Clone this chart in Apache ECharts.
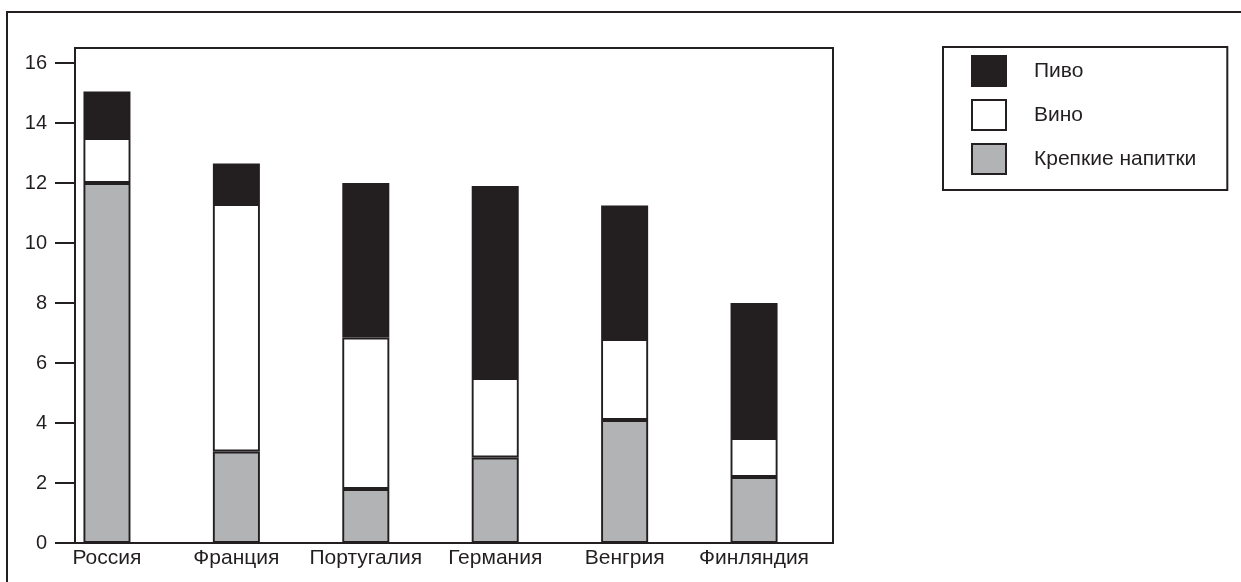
<!DOCTYPE html>
<html>
<head>
<meta charset="utf-8">
<script src="https://cdn.jsdelivr.net/npm/echarts@6/dist/echarts.min.js"></script>
<style>
html,body{margin:0;padding:0;background:#fff;}
#chart{width:1241px;height:582px;}
</style>
</head>
<body>
<div id="chart"></div>
<script>
var categories = ['Россия', 'Франция', 'Португалия', 'Германия', 'Венгрия', 'Финляндия'];
var seriesNames = ['Пиво', 'Вино', 'Крепкие напитки'];
var spirits = [12.0, 3.05, 1.8, 2.85, 4.1, 2.2];
var wine = [1.5, 8.25, 5.05, 2.65, 2.7, 1.3];
var beer = [1.55, 1.35, 5.15, 6.4, 4.45, 4.5];
var yTicks = [0, 2, 4, 6, 8, 10, 12, 14, 16];
var catIndex = categories.map(function (c, i) { return i; });

var ink = '#231f20';
var font = "'Liberation Sans', Arial, sans-serif";

// value first, category index second (so the value dimension is the stacked one)
function pairs(arr) { return arr.map(function (v, i) { return [v, i]; }); }

var chart = echarts.init(document.getElementById('chart'), null, {renderer: 'canvas'});
chart.setOption({
  animation: false,
  backgroundColor: '#fff',
  textStyle: {fontFamily: font, color: ink},
  graphic: [{
    type: 'rect', shape: {x: 7, y: 12, width: 1400, height: 800},
    style: {fill: 'none', stroke: ink, lineWidth: 2}, silent: true
  }],
  grid: {left: 75, top: 48, right: 408, bottom: 39, show: true, borderColor: ink, borderWidth: 2, backgroundColor: 'transparent'},
  legend: {
    orient: 'vertical', left: 943, top: 47,
    data: seriesNames,
    icon: 'rect', itemWidth: 34, itemHeight: 30, itemGap: 12,
    padding: [8, 31, 15, 28],
    borderColor: ink, borderWidth: 2,
    textStyle: {fontFamily: font, fontSize: 21, lineHeight: 24, color: ink, padding: [0, 0, 0, 23]},
    selectedMode: false
  },
  xAxis: {
    type: 'value', min: -0.247, max: 5.61,
    splitLine: {show: false},
    axisTick: {show: false},
    axisLine: {show: true, onZero: false, lineStyle: {color: ink, width: 2}},
    axisLabel: {
      customValues: catIndex,
      formatter: function (v) { return categories[Math.round(v)]; },
      fontFamily: font, fontSize: 21, color: ink, margin: 5
    }
  },
  yAxis: {
    type: 'value', min: 0, max: 16.5,
    splitLine: {show: false},
    axisLine: {show: true, onZero: false, lineStyle: {color: ink, width: 2}},
    axisTick: {show: true, customValues: yTicks, length: 20, lineStyle: {color: ink, width: 2}},
    axisLabel: {customValues: yTicks, fontFamily: font, fontSize: 20, color: ink, margin: 28}
  },
  series: [
    {name: 'Крепкие напитки', type: 'bar', stack: 'a', barWidth: 47, data: pairs(spirits), encode: {x: 1, y: 0},
     itemStyle: {color: '#b1b3b4', borderColor: ink, borderWidth: 1.9}},
    {name: 'Вино', type: 'bar', stack: 'a', barWidth: 47, data: pairs(wine), encode: {x: 1, y: 0},
     itemStyle: {color: '#ffffff', borderColor: ink, borderWidth: 1.9}},
    {name: 'Пиво', type: 'bar', stack: 'a', barWidth: 47, data: pairs(beer), encode: {x: 1, y: 0},
     itemStyle: {color: ink, borderColor: ink, borderWidth: 1.9}}
  ]
});
</script>
</body>
</html>
